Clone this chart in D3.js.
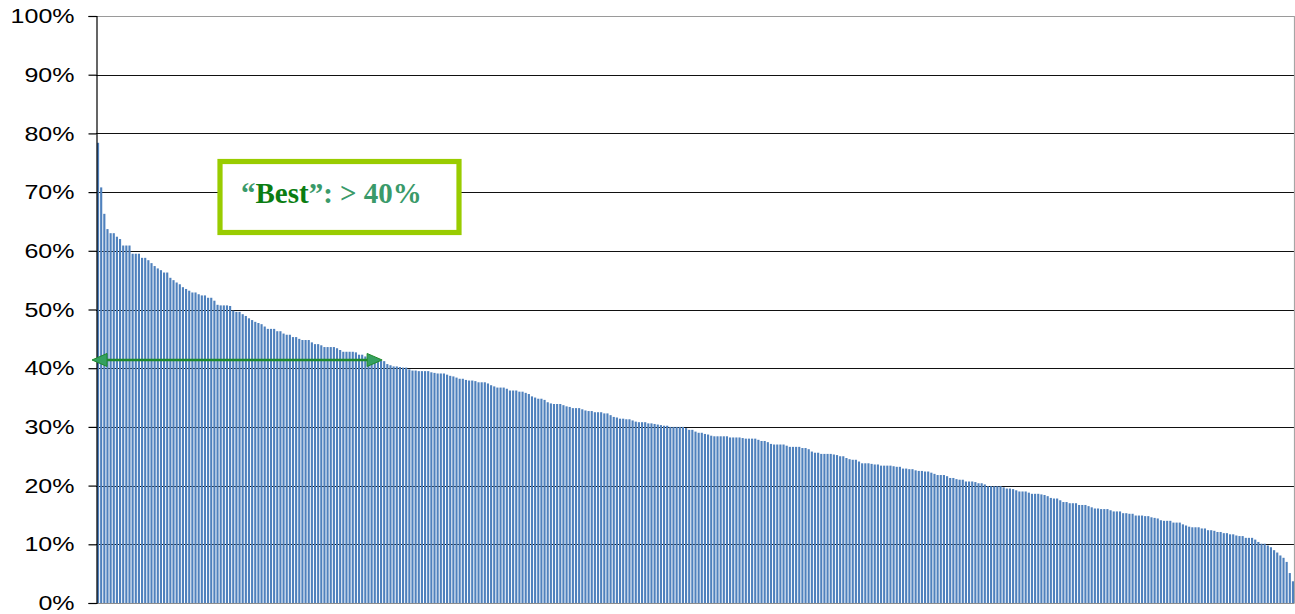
<!DOCTYPE html>
<html>
<head>
<meta charset="utf-8">
<script src="https://cdn.jsdelivr.net/npm/d3@7"></script>
<style>
  html, body { margin: 0; padding: 0; background: #fff; }
  svg { display: block; }
</style>
</head>
<body>
<svg id="chart" width="1295" height="614"></svg>
<script>
// Share (%) per item, sorted descending
const values = [
  78.4, 70.8, 66.3, 63.7, 63.0, 63.0, 62.4, 62.0, 60.9, 60.9,
  60.9, 59.5, 59.5, 59.5, 58.8, 58.8, 58.4, 57.9, 57.4, 57.0,
  56.7, 56.3, 56.3,
  55.4, 55.0, 54.6, 54.3, 53.8, 53.5, 53.2, 52.9, 52.9, 52.6,
  52.4, 52.4, 52.0, 52.0, 51.5, 50.8, 50.7, 50.7, 50.7, 50.6,
  49.8, 49.6, 49.6, 49.2, 48.9, 48.5, 48.2, 47.9, 47.7, 47.5,
  47.1, 46.7, 46.7, 46.7, 46.3, 46.3, 45.9, 45.7, 45.7, 45.3,
  45.3, 45.0, 44.8, 44.8, 44.8, 44.4, 44.1, 44.1, 43.9, 43.6,
  43.6, 43.6, 43.6, 43.4, 43.1, 42.8, 42.8, 42.8, 42.8, 42.7,
  42.3, 42.3, 42.0, 41.8, 41.7, 41.6, 41.4, 41.3, 41.2, 40.7, 40.5,
  40.3, 40.3, 40.2, 40.1, 40.1, 39.8, 39.6, 39.6, 39.5, 39.5,
  39.5, 39.5, 39.3, 39.2, 39.1, 39.1, 39.1, 38.9, 38.7, 38.6,
  38.4, 38.2, 38.2, 38.0, 37.9, 37.9, 37.8, 37.6, 37.6, 37.6,
  37.4, 37.1, 36.9, 36.7, 36.7, 36.7, 36.5, 36.2, 36.2, 36.2,
  36.0, 36.0, 35.8, 35.6, 35.2, 35.0, 34.8, 34.8, 34.6, 34.2,
  34.0, 33.9, 33.9, 33.9, 33.7, 33.5, 33.4, 33.2, 33.2, 33.2,
  33.0, 32.8, 32.7, 32.7, 32.5, 32.5, 32.5, 32.3, 32.3, 32.0,
  31.7, 31.6, 31.4, 31.4, 31.3, 31.3, 31.1, 30.9, 30.8, 30.8,
  30.8, 30.6, 30.6, 30.5, 30.4, 30.3, 30.2, 30.2, 30.0, 30.0,
  30.0, 30.0, 30.0, 29.8, 29.5, 29.5, 29.2, 29.0, 29.0, 28.8,
  28.7, 28.5, 28.4, 28.4, 28.4, 28.4, 28.4, 28.2, 28.2, 28.2,
  28.2, 28.1, 28.0, 28.0, 28.0, 28.0, 27.8, 27.6, 27.6, 27.4,
  27.1, 27.0, 27.0, 27.0, 27.0, 26.8, 26.6, 26.6, 26.6, 26.6,
  26.4, 26.4, 26.2, 25.8, 25.6, 25.6, 25.4, 25.4, 25.4, 25.4,
  25.3, 25.2, 25.0, 25.0, 24.7, 24.5, 24.4, 24.4, 24.1, 23.8,
  23.8, 23.8, 23.7, 23.6, 23.6, 23.4, 23.4, 23.4, 23.4, 23.3,
  23.2, 23.2, 22.9, 22.9, 22.8, 22.8, 22.6, 22.5, 22.5, 22.4,
  22.4, 22.2, 22.0, 21.8, 21.8, 21.8, 21.6, 21.3, 21.3, 21.1,
  21.0, 21.0, 20.7, 20.7, 20.7, 20.6, 20.4, 20.4, 20.2, 19.9,
  19.9, 19.9, 19.9, 19.9, 19.7, 19.5, 19.5, 19.4, 19.2, 19.0,
  19.0, 19.0, 18.8, 18.6, 18.6, 18.6, 18.5, 18.4, 18.2, 17.9,
  17.8, 17.8, 17.5, 17.2, 17.2, 17.0, 17.0, 17.0, 16.7, 16.7,
  16.7, 16.5, 16.3, 16.1, 16.1, 16.0, 16.0, 16.0, 15.8, 15.6,
  15.6, 15.6, 15.3, 15.3, 15.2, 15.2, 14.9, 14.9, 14.9, 14.8,
  14.8, 14.6, 14.5, 14.4, 14.1, 14.0, 14.0, 14.0, 13.7, 13.7,
  13.7, 13.4, 13.2, 13.0, 12.9, 12.9, 12.9, 12.7, 12.7, 12.4,
  12.4,
  12.3, 12.1, 12.1, 11.9, 11.9, 11.7, 11.7, 11.5, 11.4, 11.4,
  11.1, 11.1, 11.1, 10.8, 10.4, 10.1, 10.1, 9.8, 9.5, 9.0,
  8.6, 8.1, 7.7, 7.0, 5.1, 3.7
];
const categories = values.map((v, i) => i);
const yTicks = [0, 10, 20, 30, 40, 50, 60, 70, 80, 90, 100];
const bestThreshold = 40;      // %
const bestCount = 90;          // items spanned by the "Best" arrow
const labelParts = [
  { text: "\u201C", dark: false },
  { text: "Best", dark: true },
  { text: "\u201D: > 40%", dark: false }
];

const svg = d3.select("#chart");
const L = 96, R = 1294.5, T = 16, B = 603;

const y = d3.scaleLinear().domain([0, 100]).range([B, T]);
const x = d3.scaleBand().domain(categories).range([L + 0.5, R]).paddingInner(0.32).paddingOuter(0.15);

// gridlines
svg.append("g").selectAll("line").data(yTicks.filter(t => t > 0)).join("line")
  .attr("x1", L).attr("x2", R)
  .attr("y1", d => Math.round(y(d)) + 0.5).attr("y2", d => Math.round(y(d)) + 0.5)
  .attr("stroke", d => d === 100 ? "#9a9a9a" : "#111")
  .attr("stroke-width", 1.2);

// right border
svg.append("line").attr("x1", R).attr("x2", R).attr("y1", y(100)).attr("y2", B)
  .attr("stroke", "#a6a6a6").attr("stroke-width", 1.2);

// bars
svg.append("g").selectAll("rect").data(values).join("rect")
  .attr("x", (d, i) => x(i))
  .attr("width", x.bandwidth())
  .attr("y", d => y(d))
  .attr("height", d => B - y(d))
  .attr("fill", "#4f81bd");

// bottom axis line
svg.append("line").attr("x1", L).attr("x2", R).attr("y1", B + 0.5).attr("y2", B + 0.5)
  .attr("stroke", "#8c8c8c").attr("stroke-width", 1.2);

// y axis
const yAxis = d3.axisLeft(y).tickValues(yTicks).tickSize(8).tickPadding(0).tickFormat(d => d + "%");
const gy = svg.append("g").attr("transform", `translate(${L + 0.5},0)`).call(yAxis);
gy.select(".domain").attr("stroke", "#000").attr("stroke-width", 1.2);
gy.selectAll(".tick line").attr("stroke", "#000").attr("stroke-width", 1.2);
gy.selectAll(".tick text")
  .attr("x", 0).attr("dy", null)
  .attr("dominant-baseline", "central")
  .attr("text-anchor", "end")
  .attr("font-family", "'Liberation Sans', Arial, sans-serif")
  .attr("font-size", 20)
  .attr("fill", "#000")
  .attr("transform", "translate(-22,0) scale(1.25,1)");

// "Best" arrow
const ay = y(bestThreshold + 1.4);
const xStart = L - 4;
const xEnd = x(bestCount) + x.bandwidth();
const headLen = 15, headH = 6.5;
svg.append("line")
  .attr("x1", xStart + headLen - 2).attr("x2", xEnd - headLen + 2)
  .attr("y1", ay).attr("y2", ay)
  .attr("stroke", "#1f8a2a").attr("stroke-width", 2.4);
svg.append("path")
  .attr("d", `M${xStart},${ay} L${xStart + headLen},${ay - headH} L${xStart + headLen},${ay + headH} Z`)
  .attr("fill", "#35a060").attr("stroke", "#1f8a2a").attr("stroke-width", 1);
svg.append("path")
  .attr("d", `M${xEnd},${ay} L${xEnd - headLen},${ay - headH} L${xEnd - headLen},${ay + headH} Z`)
  .attr("fill", "#35a060").attr("stroke", "#1f8a2a").attr("stroke-width", 1);

// annotation box
svg.append("rect")
  .attr("x", 220).attr("y", 161.5).attr("width", 239).attr("height", 71)
  .attr("fill", "#fff").attr("stroke", "#99cc00").attr("stroke-width", 5.2);

const t = svg.append("text")
  .attr("x", 241).attr("y", 203)
  .attr("font-family", "'Liberation Serif', 'Times New Roman', serif")
  .attr("font-weight", "bold")
  .attr("font-size", 29);
t.selectAll("tspan").data(labelParts).join("tspan")
  .text(d => d.text)
  .attr("fill", d => d.dark ? "#0b7d12" : "#3a9a6a");
</script>
</body>
</html>
